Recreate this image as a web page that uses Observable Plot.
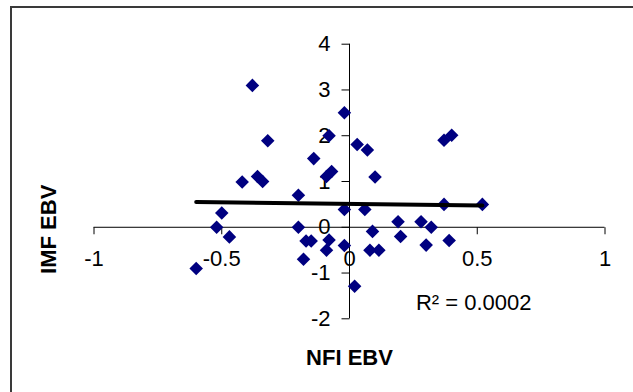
<!DOCTYPE html>
<html>
<head>
<meta charset="utf-8">
<script src="https://cdn.jsdelivr.net/npm/d3@7"></script>
<script src="https://cdn.jsdelivr.net/npm/@observablehq/plot@0.6"></script>
<style>
  html, body { margin: 0; padding: 0; background: #fff; overflow: hidden; }
  #wrap { position: relative; width: 633px; height: 392px; overflow: hidden; }
  #frame { position: absolute; left: 10px; top: 6px; width: 700px; height: 500px; border-top: 2px solid #3a3a3a; border-left: 2px solid #3a3a3a; box-sizing: border-box; pointer-events: none; }
  #chart { position: absolute; left: 0; top: 0; }
</style>
</head>
<body>
<div id="wrap"><div id="frame"></div><div id="chart"></div></div>
<script>
// NFI EBV (x) and IMF EBV (y)
const nfiEBV = [-0.60,-0.52,-0.50,-0.47,-0.42,-0.38,-0.36,-0.34,-0.32,-0.20,-0.20,-0.18,-0.17,-0.15,-0.14,-0.09,-0.09,-0.08,-0.08,-0.07,-0.02,-0.02,-0.02,0.02,0.03,0.06,0.07,0.08,0.09,0.10,0.115,0.19,0.20,0.28,0.30,0.32,0.37,0.37,0.39,0.40,0.52];
const imfEBV = [-0.90,0.00,0.31,-0.21,0.99,3.10,1.11,1.00,1.89,0.70,0.00,-0.70,-0.30,-0.30,1.50,-0.50,1.11,2.00,-0.28,1.22,2.50,0.39,-0.40,-1.29,1.81,0.39,1.69,-0.50,-0.09,1.10,-0.50,0.12,-0.20,0.12,-0.39,0.00,1.90,0.50,-0.29,2.01,0.50];
const xTicks = [-1, -0.5, 0, 0.5, 1];
const yTicks = [-2, -1, 0, 1, 2, 3, 4];
const xLabel = "NFI EBV";
const yLabel = "IMF EBV";
const r2Label = "R\u00B2 = 0.0002";

const data = nfiEBV.map((x, i) => ({x, y: imfEBV[i]}));
const fmt = d => String(d);
const font = "Liberation Sans, Arial, sans-serif";

const tickDown = {draw(ctx) { ctx.moveTo(0, 0); ctx.lineTo(0, 7); }};
const tickLeft = {draw(ctx) { ctx.moveTo(0, 0); ctx.lineTo(-8, 0); }};

const chart = Plot.plot({
  width: 633,
  height: 392,
  marginLeft: 93.5,
  marginRight: 28.5,
  marginTop: 43.7,
  marginBottom: 73.7,
  style: {fontFamily: font, background: "transparent"},
  x: {domain: [-1, 1], axis: null},
  y: {domain: [-2, 4], axis: null},
  marks: [
    Plot.ruleY([0], {x1: -1, x2: 1, stroke: "#000", strokeWidth: 1}),
    Plot.ruleX([0], {y1: -2, y2: 4, stroke: "#000", strokeWidth: 1}),
    Plot.dot(xTicks, {x: d => d, y: () => 0, symbol: tickDown, stroke: "#000", fill: "none", strokeWidth: 1}),
    Plot.dot(yTicks, {x: () => 0, y: d => d, symbol: tickLeft, stroke: "#000", fill: "none", strokeWidth: 1}),
    Plot.text(xTicks, {x: d => d, y: () => 0, dy: 32, text: fmt, fontSize: 22, fill: "#000"}),
    Plot.text(yTicks, {x: () => 0, y: d => d, dx: -19, text: fmt, textAnchor: "end", fontSize: 22, fill: "#000"}),
    Plot.dot(data, {x: "x", y: "y", symbol: "diamond2", r: 6.1, fill: "#000080", stroke: "none"}),
    Plot.linearRegressionY(data, {x: "x", y: "y", ci: 0, stroke: "#000", strokeWidth: 4}),
    Plot.text([r2Label], {x: () => 0.26, y: () => -1.66, text: d => d, textAnchor: "start", fontSize: 22, fill: "#000"}),
    Plot.text([xLabel], {x: () => 0, y: () => -2, dy: 39.5, text: d => d, fontSize: 22, fontWeight: "bold", fill: "#000"}),
    Plot.text([yLabel], {x: () => -1, y: () => 0, dx: -45.5, dy: 2, rotate: -90, text: d => d, fontSize: 22, fontWeight: "bold", fill: "#000"})
  ]
});
document.getElementById("chart").appendChild(chart);
</script>
</body>
</html>
